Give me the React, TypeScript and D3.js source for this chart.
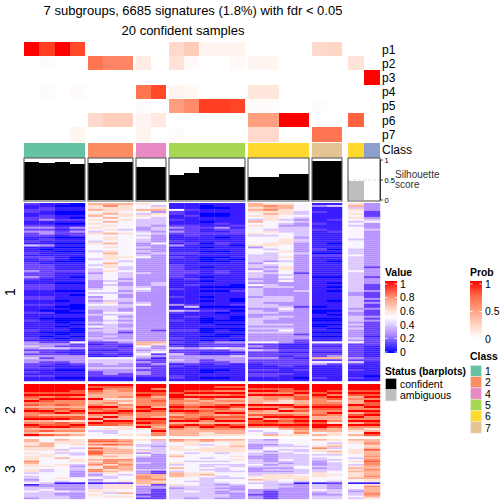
import React from 'react';
import * as d3 from 'd3';

const title1 = '7 subgroups, 6685 signatures (1.8%) with fdr < 0.05';
const title2 = '20 confident samples';
const probRows = ['p1', 'p2', 'p3', 'p4', 'p5', 'p6', 'p7'];
const classColors: Record<string, string> = { '1': '#66C2A5', '2': '#FC8D62', '3': '#8DA0CB', '4': '#E78AC3', '5': '#A6D854', '6': '#FFD92F', '7': '#E5C494' };

const columnClass = [
  ['1', '1', '1', '1'], ['2', '2', '2'], ['4', '4'], ['5', '5', '5', '5', '5'],
  ['6', '6', '6', '6'], ['7', '7'], ['6', '3'],
];
const groupEdges: [number, number][] = [[24, 85], [88, 133], [136, 166], [169, 245], [248, 309], [312, 342], [348, 380]];

const probs = [
  [[1, .9, 1, .87], [0, 0, 0], [0, 0], [.2, .27, .06, .06, .06], [0, 0, 0, 0], [.2, .22], [0, 0]],
  [[0, .02, 0, 0], [.7, .62, .62], [.1, 0], [.15, .03, 0, 0, .03], [.05, .05, 0, 0], [0, 0], [.15, 0]],
  [[0, 0, 0, 0], [0, 0, 0], [0, 0], [0, 0, 0, 0, 0], [0, 0, 0, 0], [0, 0], [0, 1]],
  [[0, .02, 0, .02], [0, 0, 0], [.7, .87], [.06, .04, 0, 0, 0], [.13, .13, 0, 0], [0, 0], [0, 0]],
  [[0, 0, 0, 0], [0, 0, 0], [.02, 0], [.5, .6, .9, .9, .88], [.02, .02, 0, 0], [.02, 0], [0, 0]],
  [[0, 0, 0, 0], [.2, .26, .26], [.06, .12], [0, 0, 0, 0, 0], [.5, .5, 1, 1], [0, 0], [.78, 0]],
  [[0, 0, 0, .05], [0, 0, 0], [.06, 0], [.02, 0, 0, 0, 0], [.2, .2, 0, 0], [.7, .7], [0, 0]],
];

const silhouette = [[.95, .92, .95, .9], [.92, .95, .95], [.83, .83], [.62, .68, .83, .83, .83], [.57, .57, .65, .65], [.97, .97], [.47, 0]];
const silhouetteStatus = [[0, 0, 0, 0], [0, 0, 0], [0, 0], [0, 0, 0, 0, 0], [0, 0, 0, 0], [0, 0], [1, 1]];
const silhouetteTicks = [0, 0.5, 1];

// expression levels per column, top to bottom; each digit indexes levelValues
const levelValues = [0, .03, .09, .27, .38, .48, .58, .7, .8, .9, 1];
const cluster1 = [
  [
    '2112211221 1232322112 1411121211 2222322321 1222111221 1211121112 1111211121 3343232343 3222121211',
    '1122112231 1232332121 1310111221 1222222211 1222111221 1211021101 1111101011 2334222323 2212111211',
    '1011001121 0121221011 0101011110 1111211111 0111011110 1101001100 0101100101 2324212333 2111011101',
    '0011001021 0132322011 0101011000 1111211011 0111010111 1000101100 1010001011 5223111333 3211011101',
  ],
  [
    '7667567565 6565465554 6555455545 5454434443 3334545343 4544334333 4353433343 2122121154 4334322211',
    '7866675757 5656575665 7565676665 7665655554 5455545554 6544454554 5444443434 2222122154 4434333211',
    '7666566565 5554565555 5555555654 5544544434 3344343344 3443354343 4334323334 3212221254 4334332211',
  ],
  [
    '6557546544 4433454544 3343434533 3333343333 3345433333 4533333333 3333333333 7754345432 3223233211',
    '5467365444 4344343333 5333343333 3333333333 4433333333 3333333333 3333233333 7633452312 2322222211',
  ],
  [
    '1115221121 1232321112 1311121211 1222222211 1112111211 1311421112 1111211121 2124224334 3121111221',
    '1112112111 1222222111 2111121111 1111221121 1211111111 1241311211 1111211111 1113222333 3211111111',
    '1001100110 1121121111 0101011000 1101111010 1101011010 1101211100 0110001010 2224211332 2111001101',
    '1101100111 2132121011 2111011010 1111221111 1101011111 1101201110 1010110011 3225211333 2211011101',
    '1111111111 1212221111 1011111101 1111111111 1001211100 1201011000 1010010110 3224312433 3111111111',
  ],
  [
    '7767656547 5655564555 5635554444 3443544434 3534444344 4443443344 4434343333 5232422232 2111212211',
    '6878676665 5554654555 6654544443 5434343333 3443333444 3443343443 3434343333 5222322232 2211212211',
    '6776665545 4344455566 6555655654 5566554545 3343333444 3345433433 3434543333 3111212122 2221112111',
    '5555445434 3344444344 3333343333 3333323333 3333433333 3323333333 3333332332 2111212212 2211211101',
  ],
  [
    '1311211111 2112111111 1112102111 1111111011 1111111111 1101001100 1001101011 5212212272 5311111121',
    '1411111121 1111211111 0110102110 1111111011 0101011110 1111010100 1010101011 5212212372 5211111111',
  ],
  [
    '6746565654 5455555545 5554445444 4444544444 4444433444 4443433444 3434333343 5222222232 4211211121',
    '3333222345 3334333333 3333333333 3323333233 3222322232 3223222323 2222222122 2211111122 1111111011',
  ],
];

const cluster2 = [
  ['aaaa9a98a8 979a889a78 a9787a', 'aaaa9a8a98 878a979a78 9a7969', 'aaaa9a9a88 9798a79a69 9a7868', 'aaa99a8a88 878a979968 a97867'],
  ['a9a9877a77 8a98a87a7a 955455', 'a987777678 7a89a7a7a9 956445', 'a988778676 878a9877a9 866556'],
  ['aaaa9a9888 8a9a888a9a 8a6556', 'aa8a997898 87a9887a99 878a88'],
  ['aaaa9aa988 9a9a8798a7 9a8777', 'aaa9a8a787 898a9889a7 a87777', 'aaa9a8a978 8a89889a87 9a8766', 'a9a8a8a787 9a98a798a7 a98776', 'a9a8a9a787 a978a898a7 9a8776'],
  ['aa9a8a7777 a8a8797a99 a85455', 'aa9a8a8876 a8a779a7a9 a85547', 'aa998a8766 a97a79a898 a97556', 'aaa9a89977 8a8978a9a9 a98786'],
  ['aaaa9a9888 9a988977a9 aa8757', 'aaa9a8a978 9a98a87786 a97766'],
  ['aaa9a97877 a88a79a8a7 a87657', 'aaa9a9a8a9 9a8a9a88a9 a867a9'],
];

const cluster3 = [
  ['7766766565 6668766566 4544345134 454443', '5577766556 6555556544 5555554334 544444', '7665554645 5755565555 5556541333 353344', '6666545544 5566543443 3335551333 343333'],
  ['8978697998 6676786688 4345341444 665655', '8979677776 7688868867 6544552666 564565', '7878667776 6687787776 5455562666 557565'],
  ['6554454635 4333433343 3788777633 333232', '7444344443 3333333342 2777867233 222222'],
  ['8755666556 7555645754 7775555643 444444', '7666556545 5554555555 6665545544 454443', '8754566655 5454544545 6754444444 444444', '7655666645 5554545444 5544554343 433443', '7666766655 6565544554 5554555433 343333'],
  ['4443334544 3344454333 4465754555 333233', '3443455343 3333434343 4666644444 322222', '5554454544 4454344343 4666554343 333333', '5555454454 4444445544 4566641333 333333'],
  ['7555686654 5443334344 6665551444 543344', '6546745764 5545444445 5655542333 444344'],
  ['7665556665 5456546767 6667551555 434454', '7787679777 8789887787 7787661687 778876'],
];

const valueTicks = [1, 0.8, 0.6, 0.4, 0.2, 0];
const probTicks = [1, 0.5, 0];
const classLegend = ['1', '2', '4', '5', '6', '7'];
const statusLegend = [{ label: 'confident', color: '#000000' }, { label: 'ambiguous', color: '#BEBEBE' }];
const clusterLabels = ['1', '2', '3'];

const clusterExtents: [number, number][] = [[203, 381], [384, 436], [439, 499]];

const valueColor = d3.scaleLinear<string>().domain([0, 0.5, 1]).range(['#0000ff', '#ffffff', '#ff0000']).interpolate(d3.interpolateLab);
const probColor = d3.scaleLinear<string>().domain([0, 1]).range(['#ffffff', '#ff0000']).interpolate(d3.interpolateLab);
const parseColumn = (s: string) => s.replace(/\s/g, '').split('').map(c => levelValues[parseInt(c, 16)]);
const FONT = '"Liberation Sans", Arial, sans-serif';
const columnBand = (g: number) => d3.scaleBand<number>().domain(d3.range(columnClass[g].length)).range(groupEdges[g]);

function HeatCluster({ data, extent }: { data: string[][]; extent: [number, number] }) {
  return (
    <g>
      {data.map((group, g) => {
        const x = columnBand(g);
        return group.map((col, c) => {
          const vals = parseColumn(col);
          const y = d3.scaleBand<number>().domain(d3.range(vals.length)).range(extent);
          return vals.map((v, r) => (
            <rect key={`${g}-${c}-${r}`} x={x(c)} y={y(r)} width={x.bandwidth() + 0.2} height={y.bandwidth() + 0.2} fill={valueColor(v)} />
          ));
        });
      })}
    </g>
  );
}

function GradientLegend({ id, x, top, height, scale, ticks, y, title, stops }: any) {
  return (
    <g>
      <defs>
        <linearGradient id={id} x1="0" x2="0" y1="0" y2="1">
          {stops.map((s: number) => <stop key={s} offset={s} stopColor={scale(1 - s)} />)}
        </linearGradient>
      </defs>
      <text x={x} y={top - 5} fontSize={10.4} fontWeight="bold" fill="#000">{title}</text>
      <rect x={x} y={top} width={12} height={height} fill={`url(#${id})`} />
      {ticks.map((t: number) => (
        <g key={t}>
          <line x1={x} x2={x + 2.5} y1={y(t)} y2={y(t)} stroke="#fff" strokeWidth={0.8} />
          <line x1={x + 9.5} x2={x + 12} y1={y(t)} y2={y(t)} stroke="#fff" strokeWidth={0.8} />
          <text x={x + 15} y={y(t) + 3.8} fontSize={10.5} fill="#000">{t}</text>
        </g>
      ))}
    </g>
  );
}

export default function App() {
  const rowY = d3.scaleBand<number>().domain(d3.range(probRows.length)).range([42, 141.5]);
  const silY = d3.scaleLinear().domain([0, 1]).range([200, 160]);
  const valueY = d3.scaleLinear().domain([0, 1]).range([352, 284]);
  const probY = d3.scaleLinear().domain([0, 1]).range([339, 284]);
  return (
    <svg width={504} height={504} viewBox="0 0 504 504" style={{ position: 'absolute', left: 0, top: 0, fontFamily: FONT }}>
      <rect width={504} height={504} fill="#fff" />
      <text x={193} y={15} textAnchor="middle" fontSize={13} fill="#000">{title1}</text>
      <text x={183} y={34.5} textAnchor="middle" fontSize={13} fill="#000">{title2}</text>

      <g shapeRendering="crispEdges">
        {probs.map((row, r) => row.map((group, g) => {
          const x = columnBand(g);
          return group.map((v, c) => (
            <rect key={`${r}-${g}-${c}`} x={x(c)} y={rowY(r)} width={x.bandwidth()} height={rowY.bandwidth()} fill={probColor(v)} />
          ));
        }))}
        {columnClass.map((g, gi) => {
          const x = columnBand(gi);
          return g.map((k, c) => (
            <rect key={`${gi}-${c}`} x={x(c)} y={143} width={x.bandwidth()} height={14.5} fill={classColors[k]} />
          ));
        })}
      </g>
      {probRows.map((p, r) => (
        <text key={p} x={382} y={rowY(r)! + rowY.bandwidth() / 2 + 4.5} fontSize={12} fill="#000">{p}</text>
      ))}
      <text x={382} y={154} fontSize={12} fill="#000">Class</text>

      {silhouette.map((vals, g) => {
        const x = columnBand(g);
        const [x0, x1] = groupEdges[g];
        return (
          <g key={g}>
            <line x1={x0} x2={x1} y1={silY(0.5)} y2={silY(0.5)} stroke="#dddddd" strokeDasharray="3 2" strokeWidth={1} />
            <g shapeRendering="crispEdges">
              {vals.map((v, c) => v > 0 && (
                <rect key={c} x={x(c)} y={silY(v)} width={x.bandwidth()} height={silY(0) - silY(v)} fill={silhouetteStatus[g][c] ? '#BEBEBE' : '#000'} />
              ))}
            </g>
            <rect x={x0} y={158} width={x1 - x0} height={43} fill="none" stroke="#666" strokeWidth={1.2} />
          </g>
        );
      })}
      <line x1={380} x2={392} y1={silY(0.5)} y2={silY(0.5)} stroke="#dddddd" strokeDasharray="3 2" strokeWidth={1} />
      <line x1={380.5} x2={380.5} y1={silY(0)} y2={silY(1)} stroke="#000" strokeWidth={0.7} />
      {silhouetteTicks.map(t => (
        <g key={t}>
          <line x1={380} x2={383} y1={silY(t)} y2={silY(t)} stroke="#000" strokeWidth={0.7} />
          <text x={384.5} y={silY(t) + 2.8} fontSize={7.5} fill="#000">{t}</text>
        </g>
      ))}
      <text fontSize={10} fill="#333">
        <tspan x={395} y={178}>Silhouette</tspan>
        <tspan x={395} y={188}>score</tspan>
      </text>

      <HeatCluster data={cluster1} extent={clusterExtents[0]} />
      <HeatCluster data={cluster2} extent={clusterExtents[1]} />
      <HeatCluster data={cluster3} extent={clusterExtents[2]} />

      {clusterLabels.map((l, i) => {
        const cy = (clusterExtents[i][0] + clusterExtents[i][1]) / 2;
        return <text key={l} transform={`translate(15,${cy}) rotate(-90)`} textAnchor="middle" fontSize={14} fill="#000">{l}</text>;
      })}

      <GradientLegend id="valueGrad" x={385} top={281} height={72} scale={valueColor} ticks={valueTicks} y={valueY} title="Value" stops={[0, 0.25, 0.5, 0.75, 1]} />
      <GradientLegend id="probGrad" x={470} top={281} height={57} scale={probColor} ticks={probTicks} y={probY} title="Prob" stops={[0, 0.25, 0.5, 0.75, 1]} />

      <text x={385} y={375} fontSize={10.2} fontWeight="bold" fill="#000">Status (barplots)</text>
      {statusLegend.map((s, i) => (
        <g key={s.label}>
          <rect x={385.5} y={378.5 + i * 11.2} width={11} height={11.2} fill={s.color} stroke="#ddd" strokeWidth={0.5} />
          <text x={400} y={388 + i * 11.2} fontSize={10.5} fill="#000">{s.label}</text>
        </g>
      ))}

      <text x={470} y={360} fontSize={10.4} fontWeight="bold" fill="#000">Class</text>
      {classLegend.map((k, i) => (
        <g key={k}>
          <rect x={470.5} y={365.3 + i * 11.3} width={11} height={11.3} fill={classColors[k]} stroke="#eee" strokeWidth={0.5} />
          <text x={485} y={375 + i * 11.3} fontSize={10.5} fill="#000">{k}</text>
        </g>
      ))}
    </svg>
  );
}
